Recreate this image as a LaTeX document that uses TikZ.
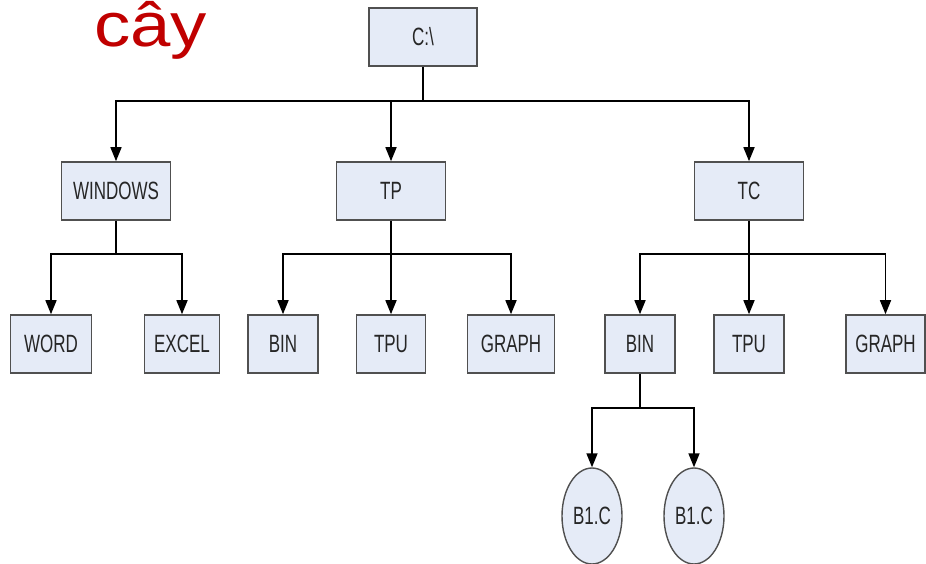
\documentclass[tikz,border=0pt]{standalone}
\usepackage{fontspec}
\setmainfont{Liberation Sans}
\newfontfamily\narrowfont[FakeStretch=0.68]{Liberation Sans}
\newfontfamily\widefont[FakeStretch=1.17]{Liberation Sans}
\usetikzlibrary{arrows.meta,shapes.geometric}
\definecolor{boxfill}{RGB}{229,235,247}
\definecolor{boxline}{RGB}{80,80,80}
\definecolor{titlered}{RGB}{192,0,0}
\tikzset{
  fbox/.style={draw=boxline,line width=1.6pt,fill=boxfill,minimum height=58pt,inner sep=0pt,
    font=\narrowfont\fontsize{25}{29}\selectfont,text=black!85},
  fellipse/.style={ellipse,draw=boxline,line width=1.4pt,fill=boxfill,minimum width=60pt,minimum height=96pt,inner sep=0pt,
    font=\narrowfont\fontsize{25}{29}\selectfont,text=black!85},
  arr/.style={line width=1.6pt,-{Triangle[length=14pt,width=11pt]}},
  ln/.style={line width=1.6pt}
}
\begin{document}
\begin{tikzpicture}[x=1pt,y=-1pt]
\useasboundingbox (0,0) rectangle (926,564);
\begin{scope}
\clip (0,0) rectangle (926,564);
\node[text=titlered,font=\widefont\fontsize{62}{66}\selectfont,anchor=base,inner sep=0pt] (title) at (150.5,47) {cây};
\end{scope}
% nodes
\node[fbox,minimum width=108pt] (root) at (423,37) {C:\textbackslash};
\node[fbox,minimum width=109pt] (win) at (116,191) {WINDOWS};
\node[fbox,minimum width=109pt] (tp) at (391,191) {TP};
\node[fbox,minimum width=109pt] (tc) at (749,191) {TC};
\node[fbox,minimum width=81pt] (word) at (51,344) {WORD};
\node[fbox,minimum width=75pt] (excel) at (182,344) {EXCEL};
\node[fbox,minimum width=70pt] (bin1) at (283,344) {BIN};
\node[fbox,minimum width=69pt] (tpu1) at (391,344) {TPU};
\node[fbox,minimum width=87pt] (graph1) at (511,344) {GRAPH};
\node[fbox,minimum width=70pt] (bin2) at (640,344) {BIN};
\node[fbox,minimum width=70pt] (tpu2) at (749,344) {TPU};
\node[fbox,minimum width=79pt] (graph2) at (885.5,344) {GRAPH};
\node[fellipse] (c1) at (592,516) {B1.C};
\node[fellipse] (c2) at (694,516) {B1.C};
% bus coordinates
\coordinate (b0) at (423,101);
\coordinate (b1) at (116,254);
\coordinate (b2) at (391,254);
\coordinate (b3) at (749,254);
\coordinate (b4) at (640,408);
% connectors
\draw[ln] (root.south) -- (b0);
\draw[arr] (b0) -| (win.north);
\draw[arr] (b0) -| (tp.north);
\draw[arr] (b0) -| (tc.north);
\draw[ln] (win.south) -- (b1);
\draw[arr] (b1) -| (word.north);
\draw[arr] (b1) -| (excel.north);
\draw[ln] (tp.south) -- (b2);
\draw[arr] (b2) -| (bin1.north);
\draw[arr] (b2) -- (tpu1.north);
\draw[arr] (b2) -| (graph1.north);
\draw[ln] (tc.south) -- (b3);
\draw[arr] (b3) -| (bin2.north);
\draw[arr] (b3) -- (tpu2.north);
\draw[arr] (b3) -| (graph2.north);
\draw[ln] (bin2.south) -- (b4);
\draw[arr] (b4) -| (c1.north);
\draw[arr] (b4) -| (c2.north);
\end{tikzpicture}
\end{document}
